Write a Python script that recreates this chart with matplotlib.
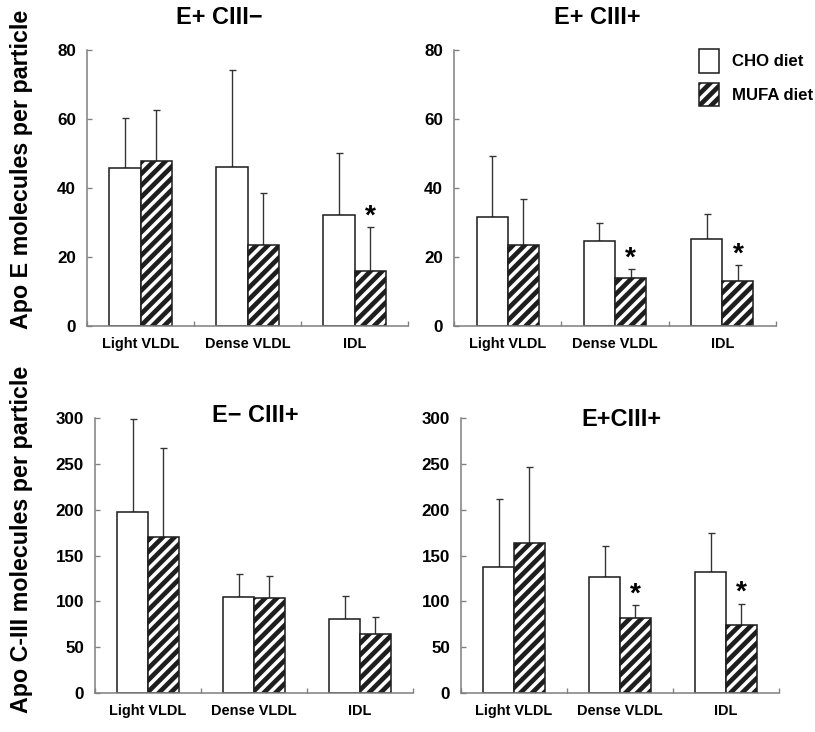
import numpy as np
import matplotlib
matplotlib.use('Agg')
import matplotlib.pyplot as plt

plt.rcParams['font.family'] = ['Liberation Sans', 'DejaVu Sans']
plt.rcParams['font.weight'] = 'bold'
plt.rcParams['hatch.linewidth'] = 2.4

DPI = 140
W, H = 815, 732

# ---- data ----
fractions = ['Light VLDL', 'Dense VLDL', 'IDL']
diets = ['CHO diet', 'MUFA diet']

# Apo E per particle
ep_cm_cho = [45.9, 46.2, 32.1]
ep_cm_cho_sd = [14.3, 28.0, 18.1]
ep_cm_mufa = [47.9, 23.4, 16.0]
ep_cm_mufa_sd = [14.7, 15.1, 12.6]

ep_cp_cho = [31.7, 24.7, 25.1]
ep_cp_cho_sd = [17.6, 5.2, 7.4]
ep_cp_mufa = [23.4, 13.9, 13.1]
ep_cp_mufa_sd = [13.3, 2.5, 4.5]

# Apo C-III per particle
cm_cp_cho = [197, 104.7, 80.4]
cm_cp_cho_sd = [101.5, 24.8, 25.4]
cm_cp_mufa = [169.8, 103.6, 64.0]
cm_cp_mufa_sd = [97.8, 24.4, 18.6]

cp_cp_cho = [137, 126.2, 132.2]
cp_cp_cho_sd = [75, 34.1, 42.0]
cp_cp_mufa = [163.4, 81.5, 74.2]
cp_cp_mufa_sd = [83.3, 14.0, 22.8]

# which MUFA bars carry a significance star
stars_tl = [False, False, True]
stars_tr = [False, True, True]
stars_bl = [False, False, False]
stars_br = [False, True, True]


def px(v):
    return v * 72.0 / DPI


def rect(left, right, top, bottom):
    return [left / W, 1 - bottom / H, (right - left) / W, (bottom - top) / H]


fig = plt.figure(figsize=(W / DPI, H / DPI), dpi=DPI)

spine_col = '#808080'
edge_col = '#1e1e1e'
width = 0.29


def panel(r, cho, cho_sd, mufa, mufa_sd, stars, ymax, ystep):
    ax = fig.add_axes(r)
    x = np.arange(len(fractions))
    b1 = ax.bar(x - width / 2, cho, width, color='white', edgecolor=edge_col,
                linewidth=0.8, label=diets[0], zorder=2)
    b2 = ax.bar(x + width / 2, mufa, width, color='white', edgecolor=edge_col,
                linewidth=0.8, hatch='////', label=diets[1], zorder=2)
    ax.errorbar(x - width / 2, cho, yerr=[np.zeros(len(cho)), cho_sd], fmt='none',
                ecolor='#333333', elinewidth=0.7, capsize=1.8, capthick=0.7, zorder=1)
    ax.errorbar(x + width / 2, mufa, yerr=[np.zeros(len(mufa)), mufa_sd], fmt='none',
                ecolor='#333333', elinewidth=0.7, capsize=1.8, capthick=0.7, zorder=1)
    for i, s in enumerate(stars):
        if s:
            ax.annotate('*', xy=(x[i] + width / 2, mufa[i] + mufa_sd[i]),
                        xytext=(0, -1), textcoords='offset points',
                        ha='center', va='bottom', fontsize=px(28), fontweight='bold')
    ax.set_xlim(-0.5, 2.5)
    ax.set_ylim(0, ymax)
    ax.set_yticks(np.arange(0, ymax + 1, ystep))
    ax.set_xticks(x)
    ax.set_xticklabels(fractions)
    ax.set_xticks([-0.5, 0.5, 1.5, 2.5], minor=True)
    ax.tick_params(axis='x', which='major', length=0, pad=px(11), labelsize=px(14.5))
    ax.tick_params(axis='x', which='minor', direction='in', length=px(5),
                   width=0.7, color=spine_col)
    ax.tick_params(axis='y', direction='in', length=px(5), width=0.7,
                   color=spine_col, pad=px(11), labelsize=px(17))
    for s in ['top', 'right']:
        ax.spines[s].set_visible(False)
    for s in ['left', 'bottom']:
        ax.spines[s].set_color(spine_col)
        ax.spines[s].set_linewidth(0.8)
    return ax, b1, b2


ax_tl, _, _ = panel(rect(87, 408, 50, 326), ep_cm_cho, ep_cm_cho_sd,
                    ep_cm_mufa, ep_cm_mufa_sd, stars_tl, 80, 20)
ax_tr, h1, h2 = panel(rect(454, 776, 50, 326), ep_cp_cho, ep_cp_cho_sd,
                      ep_cp_mufa, ep_cp_mufa_sd, stars_tr, 80, 20)
ax_bl, _, _ = panel(rect(95, 413, 418, 693), cm_cp_cho, cm_cp_cho_sd,
                    cm_cp_mufa, cm_cp_mufa_sd, stars_bl, 300, 50)
ax_br, _, _ = panel(rect(461, 779, 418, 693), cp_cp_cho, cp_cp_cho_sd,
                    cp_cp_mufa, cp_cp_mufa_sd, stars_br, 300, 50)

# panel titles
tsize = px(23.5)
fig.text(219 / W, 1 - 17 / H, 'E+ CIII\u2212', ha='center', va='center', fontsize=tsize)
fig.text(597 / W, 1 - 17 / H, 'E+ CIII+', ha='center', va='center', fontsize=tsize)
fig.text(255 / W, 1 - 416 / H, 'E\u2212 CIII+', ha='center', va='center', fontsize=tsize)
fig.text(621 / W, 1 - 419 / H, 'E+CIII+', ha='center', va='center', fontsize=tsize)

# row labels
fig.text(22 / W, 1 - 169 / H, 'Apo E molecules per particle', rotation=90,
         ha='center', va='center', fontsize=px(23.3))
fig.text(22 / W, 1 - 539 / H, 'Apo C-III molecules per particle', rotation=90,
         ha='center', va='center', fontsize=px(23.3))

lfs = 16.8
ax_tr.legend(handles=[h1, h2], loc='upper left',
             bbox_to_anchor=(699 / W, 1 - 49 / H), bbox_transform=fig.transFigure,
             frameon=False, borderpad=0, borderaxespad=0,
             handlelength=20 / lfs, handleheight=30 / lfs,
             labelspacing=10 / lfs, handletextpad=13 / lfs,
             prop={'size': px(lfs), 'weight': 'bold'})

plt.savefig('out.png', dpi=DPI)
